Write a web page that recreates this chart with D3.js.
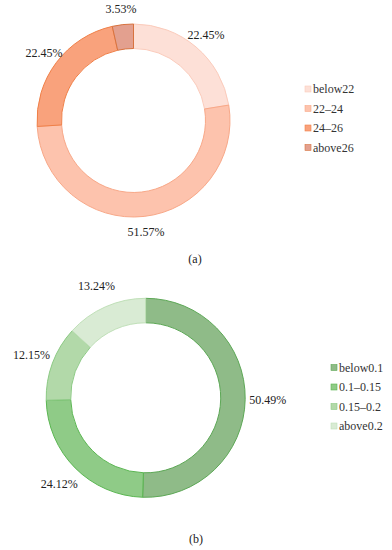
<!DOCTYPE html>
<html>
<head>
<meta charset="utf-8">
<script src="https://cdn.jsdelivr.net/npm/d3@7"></script>
<style>
  body { margin: 0; background: #fff; }
</style>
</head>
<body>
<div id="chart"></div>
<script>
// chart (a)
var catsA = ["below22", "22\u201324", "24\u201326", "above26"];
var valuesA = [22.45, 51.57, 22.45, 3.53];
var fillsA = ["#fde0d7", "#fdc3ad", "#f9a27c", "#e3a08f"];
var strokesA = ["#fbcbbb", "#f8a888", "#f08048", "#d8733f"];

// chart (b)
var catsB = ["below0.1", "0.1\u20130.15", "0.15\u20130.2", "above0.2"];
var valuesB = [50.49, 24.12, 12.15, 13.24];
var fillsB = ["#8fbb88", "#8fcb87", "#b2d9a9", "#d9ebd4"];
var strokesB = ["#5da856", "#5bb652", "#8cca84", "#c0e0b8"];

var width = 392, height = 550;
var serif = "'Liberation Serif', 'Times New Roman', 'DejaVu Serif', serif";

var svg = d3.select("#chart").append("svg")
    .attr("width", width)
    .attr("height", height)
    .style("font-family", serif);

function drawDonut(cfg) {
    var data = cfg.cats.map(function(c, i) { return { cat: c, value: cfg.values[i], i: i }; });

    var pie = d3.pie().sort(null).value(function(d) { return d.value; });
    var arcs = pie(data);

    var arc = d3.arc().innerRadius(cfg.inner).outerRadius(cfg.outer);
    var labelArc = d3.arc().innerRadius(cfg.labelR).outerRadius(cfg.labelR);

    var g = svg.append("g").attr("transform", "translate(" + cfg.cx + "," + cfg.cy + ")");

    g.selectAll("path.slice")
        .data(arcs)
        .enter().append("path")
        .attr("class", "slice")
        .attr("d", arc)
        .attr("fill", function(d) { return cfg.fills[d.data.i]; })
        .attr("stroke", function(d) { return cfg.strokes[d.data.i]; })
        .attr("stroke-width", 1);

    // percent labels
    g.selectAll("text.pct")
        .data(arcs)
        .enter().append("text")
        .attr("class", "pct")
        .attr("x", function(d) { return labelArc.centroid(d)[0]; })
        .attr("y", function(d) { return labelArc.centroid(d)[1]; })
        .attr("dy", "0.35em")
        .attr("text-anchor", "middle")
        .attr("font-family", serif)
        .attr("font-size", "12px")
        .attr("fill", "#222")
        .text(function(d) { return d.data.value.toFixed(2) + "%"; });

    // legend
    var leg = svg.append("g").attr("transform", "translate(" + cfg.legX + "," + cfg.legY + ")");
    var rows = leg.selectAll("g")
        .data(data)
        .enter().append("g")
        .attr("transform", function(d, i) { return "translate(0," + (i * 19.5) + ")"; });

    rows.append("rect")
        .attr("x", 0).attr("y", -3)
        .attr("width", 6).attr("height", 6)
        .attr("fill", function(d) { return cfg.fills[d.i]; })
        .attr("stroke", function(d) { return cfg.strokes[d.i]; })
        .attr("stroke-width", 0.6);

    rows.append("text")
        .attr("x", 8)
        .attr("dy", "0.35em")
        .attr("font-family", serif)
        .attr("font-size", "12px")
        .attr("fill", "#333")
        .text(function(d) { return d.cat; });

    svg.append("text")
        .attr("x", cfg.capX)
        .attr("y", cfg.capY)
        .attr("text-anchor", "middle")
        .attr("font-family", serif)
        .attr("font-size", "12px")
        .attr("fill", "#222")
        .text(cfg.caption);
}

drawDonut({
    cats: catsA, values: valuesA, fills: fillsA, strokes: strokesA,
    cx: 133.5, cy: 120.5, outer: 96.5, inner: 72, labelR: 112,
    legX: 305, legY: 89, capX: 195, capY: 263, caption: "(a)"
});

drawDonut({
    cats: catsB, values: valuesB, fills: fillsB, strokes: strokesB,
    cx: 145.7, cy: 397.8, outer: 99.5, inner: 75, labelR: 122,
    legX: 331, legY: 367.5, capX: 196, capY: 543, caption: "(b)"
});
</script>
</body>
</html>
